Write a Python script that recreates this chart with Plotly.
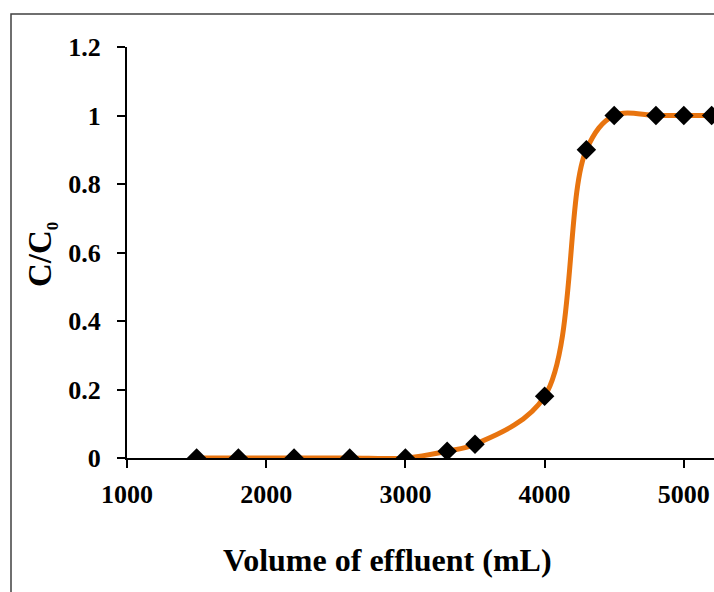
import plotly.graph_objects as go

volume_ml = [1500, 1800, 2200, 2600, 3000, 3300, 3500, 4000, 4300, 4500, 4800, 5000, 5200]
c_over_c0 = [0, 0, 0, 0, 0, 0.02, 0.04, 0.18, 0.9, 1.0, 1.0, 1.0, 1.0]

x_ticks = [1000, 2000, 3000, 4000, 5000]
y_ticks = [0, 0.2, 0.4, 0.6, 0.8, 1.0, 1.2]

FONT = "Liberation Serif"
W, H = 714, 592
L, R, T, B = 127, 0, 47, 134
pw, ph = W - L - R, H - T - B

def px_x(p):
    return (p - L) / pw

def px_y(p):
    return (H - B - p) / ph

fig = go.Figure()
fig.add_trace(go.Scatter(
    x=volume_ml, y=c_over_c0, mode="lines",
    line=dict(color="#E8740F", width=5, shape="spline", smoothing=1.0),
    hoverinfo="skip", showlegend=False,
))
fig.add_trace(go.Scatter(
    x=volume_ml, y=c_over_c0, mode="markers",
    marker=dict(symbol="diamond", size=15, color="black"),
    showlegend=False,
))

fig.update_layout(
    width=W, height=H,
    margin=dict(l=L, r=R, t=T, b=B, pad=0),
    paper_bgcolor="white", plot_bgcolor="white",
    font=dict(family=FONT, color="black"),
    xaxis=dict(
        range=[1000, 1000 + (W - L) / 139.2 * 1000],
        tickvals=x_ticks, tickformat="d",
        showline=True, linecolor="black", linewidth=2,
        ticks="outside", ticklen=8, tickwidth=2, tickcolor="black",
        showgrid=False, zeroline=False,
        tickfont=dict(family=FONT, size=26, weight="bold"),
        ticklabelstandoff=4,
    ),
    yaxis=dict(
        range=[0, 1.2],
        tickvals=y_ticks,
        showline=True, linecolor="black", linewidth=2,
        ticks="outside", ticklen=8, tickwidth=2, tickcolor="black",
        showgrid=False, zeroline=False,
        tickfont=dict(family=FONT, size=26, weight="bold"),
        ticklabelstandoff=11,
    ),
    shapes=[dict(
        type="rect", xref="paper", yref="paper",
        x0=px_x(11), x1=1.2, y0=-0.5, y1=px_y(14),
        line=dict(color="#404040", width=1.5), fillcolor="rgba(0,0,0,0)",
        layer="below",
    )],
    annotations=[
        dict(text="Volume of effluent (mL)", xref="paper", yref="paper",
             x=px_x(387), y=px_y(560), showarrow=False,
             xanchor="center", yanchor="middle",
             font=dict(family=FONT, size=32, weight="bold")),
        dict(text="C/C<sub><span style='font-size:17px'>0</span></sub>",
             xref="paper", yref="paper",
             x=px_x(42), y=px_y(255), showarrow=False, textangle=-90,
             xanchor="center", yanchor="middle",
             font=dict(family=FONT, size=33, weight="bold")),
    ],
)

fig.write_html("out.html", config={"displayModeBar": False},
               post_script="document.body.style.margin='0';")
